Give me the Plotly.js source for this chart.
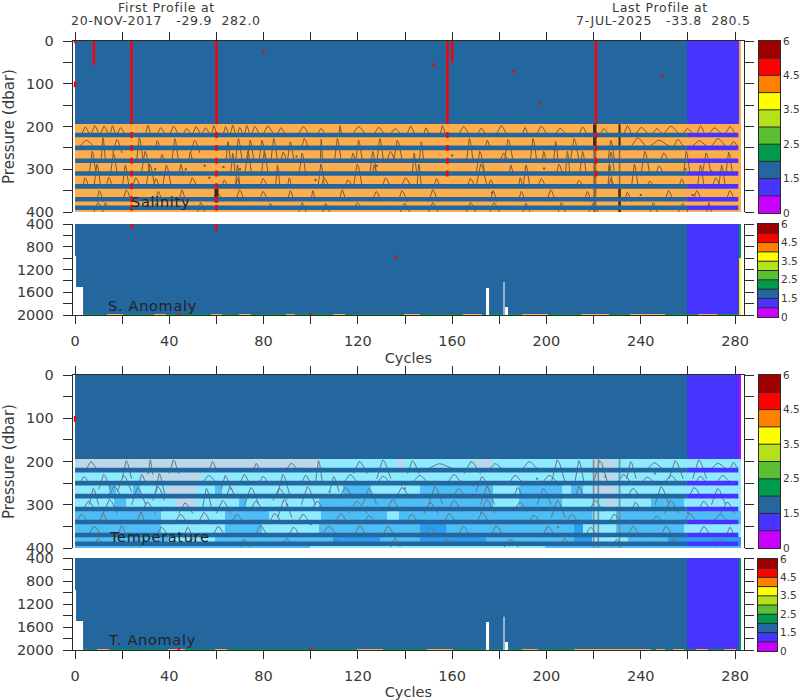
<!DOCTYPE html>
<html>
<head>
<meta charset="utf-8">
<script src="https://cdn.plot.ly/plotly-3.0.1.min.js"></script>
<style>html,body{margin:0;padding:0;background:#fff}#chart{width:800px;height:700px}.annotation-text{letter-spacing:0.7px}</style>
</head>
<body>
<div id="chart"></div>
<script>
// ---- categories ----
const flagColors = ['#c800ff','#4834ff','#24679f','#009a4e','#5abf32','#b4e11a','#ffff00','#ff8000','#ff0000','#a00000'];
const flagLabels = ['0','1.5','2.5','3.5','4.5','6'];
const flagLabelPos = [-0.5,1.5,3.5,5.5,7.5,9.5];
const extraColors = ['#ffad4b','#bcd7ea','#8eeaff','#4ebcf5','#2a9df0'];
const MAG=0,PUR=1,BLU=2,GRN=3,YEL=6,TAN=10,GRY=11,CYA=12,MID=13,DEP=14;

// ---- axes values ----
const lastCycle = 282;
const purpleStart = 260;
const xTicks = [0,20,40,60,80,100,120,140,160,180,200,220,240,260,280];
const xLabels = ['0','','40','','80','','120','','160','','200','','240','','280'];
const shallowTicks = [0,50,100,150,200,250,300,350,400];
const shallowLabels = ['0','','100','','200','','300','','400'];
const deepTicks = [400,600,800,1000,1200,1400,1600,1800,2000];
const deepLabels = ['400','','800','','1200','','1600','','2000'];

// ---- bands ----
const stripePressures = [220,250,280,310,340,370,390];
const bandTop = 195;
const tempBands = [
 [195,225,[[0,105,GRY],[105,137,CYA],[137,140,GRY],[140,170,CYA],[170,178,GRY],[178,220,CYA],[220,230,GRY],[230,283,CYA]]],
 [225,255,[[0,29,CYA],[29,54,GRY],[54,221,CYA],[221,230,GRY],[230,283,CYA]]],
 [255,285,[[0,15,CYA],[15,18,MID],[18,25,CYA],[25,28,MID],[28,39,CYA],[39,52,GRY],[52,60,CYA],[60,63,MID],[63,114,CYA],[114,126,MID],[126,147,CYA],[147,178,MID],[178,189,CYA],[189,207,MID],[207,211,CYA],[211,216,MID],[216,221,CYA],[221,230,GRY],[230,283,CYA]]],
 [285,315,[[0,17,CYA],[17,22,MID],[22,43,CYA],[43,52,GRY],[52,70,CYA],[70,73,MID],[73,104,CYA],[104,147,MID],[147,178,MID],[178,189,CYA],[189,207,MID],[207,225,CYA],[225,230,GRY],[230,245,CYA],[245,259,MID],[259,283,CYA]]],
 [315,345,[[0,37,MID],[37,64,CYA],[64,83,MID],[83,105,CYA],[105,133,MID],[133,138,CYA],[138,220,MID],[220,230,CYA],[230,283,MID]]],
 [345,375,[[0,37,MID],[37,64,CYA],[64,80,MID],[80,104,CYA],[104,147,MID],[147,158,DEP],[158,212,MID],[212,216,DEP],[216,230,CYA],[230,259,MID],[259,283,CYA]]],
 [375,395,[[0,40,MID],[40,60,CYA],[60,110,MID],[110,130,DEP],[130,147,MID],[147,175,DEP],[175,212,MID],[212,220,DEP],[220,235,CYA],[235,252,MID],[252,283,DEP]]],
 [395,400,[[0,100,MID],[100,200,CYA],[200,283,MID]]]
];

// ---- red flags ----
const salRed = [[8,0,56],[24,0,195],[60,0,195],[158,0,195],[160,0,50],[221,0,195],[0,0,5],[0,95,108]];
const salRedDash = [24,60];
const salRedDashShort = [158,221];
const salRedSpots = [[80,25],[152,55],[186,72],[197,145],[249,80]];
const sAnomRed = [[24,400,480],[60,400,520]];
const sAnomSpots = [[136,980],[44,1990],[100,1990]];
const tempRed = [[0,95,108]];
const tAnomSpots = [[44,1990],[100,1990]];

// ---- missing regions of the deep panels ----
const deepMissing = [[0,0,960],[1,3,1500],[175,175,1520],[183,183,1860]];
const thinGap = [[182,1420,2000]];
const sStripTan = [[14,20],[34,38],[58,62],[70,74],[90,93],[110,114],[140,146],[165,172],[190,200],[215,226],[236,250],[265,272]];
const tStripTan = [[10,14],[40,46],[60,64],[120,130],[150,160],[190,196],[212,244],[247,250],[254,258],[264,268],[276,280]];

// ---- dark dense contours ----
const salDark = [[220.5,195,255,3.5],[231,195,255,2],[231,345,400,2.5],[60,345,378,4]];
const salFaint = [[220.5,255,400,3],[231,255,345,1.5]];
const tempDark = [[220,195,400,1.6],[222,195,400,1.6],[231,195,400,1.6]];

// ---- contour arcs: left cycle, right cycle, end pressure, apex pressure ----
const salArcs = [
[3,6,216,201],[7,10,216,198],[11,14,216,199],[15,17,216,198],[18,21,216,203],[30,32,216,197],[35,38,216,203],[40,44,222,199],[46,49,216,205],[50,53,216,200],[54,57,216,203],[58,60,216,198],[63,65,216,200],[66,68,216,197],[69,71,216,202],[72,74,216,198],[75,78,216,200],[80,84,216,199],[86,89,216,203],[95,99,216,200],[103,106,216,205],[112,113,216,198],[118,123,216,200],[127,131,216,202],[134,138,216,205],[141,144,216,199],[148,150,216,203],[155,157,216,198],[163,167,216,200],[171,174,216,204],[179,183,216,198],[190,192,216,202],[196,200,216,199],[204,208,216,204],[214,217,216,201],[223,226,216,205],[233,236,216,198],[238,243,216,202],[245,249,216,205],[250,256,216,199],[258,262,216,205],[264,267,216,198],[269,274,216,203],[276,280,216,200],
[2,8,246,232],[11,13,285,226],[16,20,262,230],[26,29,285,226],[34,36,250,233],[41,44,285,228],[49,53,262,232],[64,66,285,235],[68,71,285,228],[73,76,285,232],[78,81,285,232],[83,86,285,228],[90,93,285,236],[96,99,250,228],[104,105,285,230],[110,113,285,228],[119,122,285,232],[128,131,285,228],[135,139,285,232],[146,148,285,236],[166,169,285,228],[174,176,250,232],[182,186,285,230],[193,196,285,228],[203,205,285,234],[210,214,285,228],[226,229,285,232],[236,242,246,226],[244,252,246,232],[254,258,246,230],[262,268,246,233],[270,276,246,228],[278,281,246,235],
[6,9,315,258],[15,18,315,262],[28,32,315,258],[36,38,285,265],[48,50,285,260],[66,68,315,262],[72,75,315,258],[79,82,315,258],[87,90,285,260],[95,98,315,262],[117,119,285,262],[125,128,315,258],[132,136,285,258],[143,145,315,262],[170,174,315,258],[180,184,285,262],[198,200,285,258],[208,210,315,258],[214,217,315,258],[226,229,315,260],[240,244,315,258],[248,252,285,262],[258,261,315,258],[266,270,315,262],[276,279,315,260],
[8,11,345,288],[20,23,345,290],[30,34,345,288],[37,41,345,290],[44,46,315,288],[68,70,345,290],[85,87,345,290],[103,106,345,288],[118,122,345,288],[126,128,315,290],[145,147,345,288],[170,175,345,288],[184,186,315,290],[190,193,345,290],[204,207,315,288],[226,228,345,290],[236,239,345,288],[246,250,315,292],[264,267,345,290],[273,276,345,290],
[3,6,345,320],[13,16,345,318],[24,28,345,320],[33,36,345,322],[48,52,345,320],[62,65,345,325],[68,70,345,320],[78,82,345,322],[90,92,345,320],[104,108,345,320],[114,118,345,325],[130,134,345,320],[138,143,345,320],[152,155,345,322],[166,170,345,322],[175,178,345,325],[188,190,345,320],[196,200,345,322],[212,216,345,326],[226,229,345,322],[242,246,345,328],[256,259,345,322],[270,274,345,320],
[9,12,376,350],[20,24,376,348],[34,37,376,352],[44,47,376,348],[58,63,376,354],[68,72,376,348],[78,82,376,352],[90,93,376,350],[100,102,376,350],[112,115,376,348],[126,130,376,352],[137,141,376,350],[150,154,376,348],[176,179,376,350],[188,191,376,352],[200,204,376,348],[216,219,376,352],[233,236,376,354],[250,254,376,350],[262,266,376,350],[276,280,376,350],
[12,14,395,378],[33,36,395,380],[52,55,400,378],[82,84,395,380],[95,98,400,378],[118,122,395,378],[138,142,400,380],[166,170,400,378],[190,193,400,380],[218,222,400,380],[244,247,400,378],[268,270,400,378],[8,12,400,378],[105,108,400,380],[150,154,400,378],[176,180,400,378],[205,208,400,378],[256,260,400,380]
];
const salDots = [[34,300],[47,300],[55,292],[57,320],[63,295],[70,300],[86,368],[94,270],[102,325],[128,292],[160,268],[177,355],[199,298],[215,372],[240,360],[259,300],[262,360],[270,305],[274,340]];

const tempArcs = [
[5,9,216,200],[20,24,240,198],[31,33,230,196],[40,44,228,196],[57,60,220,200],[76,78,216,204],[90,94,216,204],[102,105,250,198],[118,124,228,200],[128,134,240,196],[141,146,228,198],[150,160,216,205],[165,172,228,200],[176,181,216,205],[190,196,216,200],[202,208,250,196],[212,216,250,198],[220,226,250,198],[234,238,240,200],[243,249,216,203],[252,258,240,198],[262,268,240,196],[270,276,216,204],[278,281,216,202],
[2,6,250,235],[10,15,265,230],[18,24,270,232],[27,30,250,230],[34,38,275,228],[54,60,250,232],[62,66,265,232],[70,74,250,230],[78,82,250,234],[86,91,275,230],[96,100,250,232],[108,112,270,235],[114,120,250,230],[128,134,250,234],[143,150,250,232],[158,164,250,230],[170,176,270,235],[184,190,250,232],[198,205,250,232],[230,236,250,230],[240,246,250,236],[250,256,250,232],[263,268,250,234],[272,278,250,232],
[6,10,300,262],[14,20,285,258],[24,30,300,260],[33,38,290,258],[54,58,310,262],[64,68,285,258],[72,78,300,260],[84,90,290,262],[96,102,300,258],[112,118,285,260],[122,128,300,262],[136,142,285,260],[150,156,300,258],[160,166,285,262],[172,178,300,258],[186,190,285,260],[196,202,300,262],[212,216,285,258],[234,240,285,262],[246,252,300,258],[260,266,285,260],[270,276,300,262],
[3,9,315,292],[12,18,320,288],[28,34,320,294],[44,50,320,296],[60,66,320,290],[74,80,315,292],[86,92,330,288],[100,106,315,292],[116,124,320,292],[132,138,315,288],[148,154,320,295],[158,164,315,290],[172,178,320,288],[186,192,315,294],[202,208,330,290],[218,224,315,290],[236,240,315,294],[250,256,320,290],[264,270,315,292],[274,280,320,294],
[0,6,345,322],[10,14,345,320],[26,30,345,318],[42,48,345,322],[52,58,345,318],[66,72,345,322],[82,88,345,320],[94,100,345,322],[110,116,345,320],[122,128,345,325],[140,146,345,322],[156,162,345,320],[170,176,345,318],[192,198,345,324],[208,214,345,322],[226,232,345,322],[244,250,345,326],[258,264,345,320],[270,278,345,322],
[5,12,376,350],[18,22,376,348],[34,40,376,352],[46,50,376,352],[58,64,376,350],[76,82,376,348],[90,96,376,352],[104,112,376,350],[118,124,376,348],[130,136,376,350],[148,154,376,352],[162,168,376,350],[176,182,376,348],[198,204,376,350],[216,222,376,352],[234,240,376,350],[248,254,376,350],[264,270,376,350],[276,280,376,352],
[8,12,395,378],[24,28,398,380],[48,52,395,378],[70,74,398,380],[88,92,395,378],[108,114,395,380],[134,138,398,378],[156,160,395,378],[182,188,398,380],[206,210,395,378],[228,232,398,380],[252,256,395,378],[272,276,398,380]
];
const tempDots = [[169,255],[140,262],[108,270],[196,240],[225,235],[246,228],[260,318],[268,312],[205,352],[100,345],[90,300]];

// ---- build grids ----
const cycles = []; for (let c=0;c<=lastCycle;c++) cycles.push(c);
// cell edges: the first and the last cycle only show a sliver of a cell
const cycleEdges = [0]; for (let c=0;c<lastCycle;c++) cycleEdges.push(c+0.5); cycleEdges.push(lastCycle+0.45);
const shallowP = []; for (let p=2.5;p<400;p+=5) shallowP.push(p);
const deepP = []; for (let p=410;p<2000;p+=20) deepP.push(p);

function shallowGrid(fillFn, topEdge){
  return shallowP.map(p => {
    if (p<bandTop) return cycles.map(c => c===lastCycle ? topEdge : (c>=purpleStart ? PUR : BLU));
    return cycles.map(c => fillFn(p,c));
  });
}
const salZ = shallowGrid(()=>TAN,TAN);
const tempZ = shallowGrid((p,c)=>{
  for (const b of tempBands) if (p>=b[0]&&p<b[1]) for (const r of b[2]) if (c>=r[0]&&c<r[1]) return r[2];
  return CYA;
},MAG);
function deepGrid(stripRuns, edgeFn){
  return deepP.map(p => cycles.map(c => {
    for (const m of deepMissing) if (c>=m[0]&&c<=m[1]&&p>=m[2]) return null;
    if (c===lastCycle) return edgeFn(p);
    if (p>=1980){
      for (const r of stripRuns) if (c>=r[0]&&c<=r[1]) return TAN;
      return GRN;
    }
    return c>=purpleStart ? PUR : BLU;
  }));
}
const sAnomZ = deepGrid(sStripTan, p => p<1000 ? GRN : YEL);
const tAnomZ = deepGrid(tStripTan, p => GRN);

// ---- colour scale ----
const allColors = flagColors.concat(extraColors);
const n = allColors.length;
const cscale = [];
allColors.forEach((col,i)=>{ cscale.push([i/n,col]); cscale.push([(i+1)/n,col]); });
const heatBase = {type:'heatmap',colorscale:cscale,zmin:-0.5,zmax:n-0.5,showscale:false,hoverinfo:'skip',zsmooth:false};

// ---- pixel layout of the panels ----
const W=800,H=700;
const dx = [72.7/W,744/W];
const panels = [[41,212],[224,315],[375,548],[558,650]];
const cbBoxes = [[759,780,41,213],[758,778,224,317],[759,780,375,548],[758,777,559,651]];
const dy = a => [1-a[1]/H,1-a[0]/H];
const xRange = [-0.98,283.8];
const ink='#2b2b2b', label='#3a3a3a';
const fontFam='"DejaVu Sans",sans-serif';

const layout = {width:W,height:H,margin:{l:0,r:0,t:0,b:0},paper_bgcolor:'#fff',plot_bgcolor:'#fff',showlegend:false,
  font:{family:fontFam,size:14.5,color:label},annotations:[]};

panels.forEach((pp,i)=>{
  const k = i+1, deep = i%2===1;
  layout['xaxis'+k] = {domain:dx,range:xRange,anchor:'y'+k,side:deep?'bottom':'top',tickmode:'array',
    tickvals:xTicks,ticktext:xLabels,ticks:'outside',ticklen:8,tickcolor:ink,tickwidth:1,
    showticklabels:deep,showline:true,linecolor:ink,linewidth:1,showgrid:false,zeroline:false,
    ticklabelstandoff:5,tickfont:{size:14.5,color:label},
    title: deep ? {text:'Cycles',standoff:4,font:{size:14.5,color:label}} : undefined};
  layout['yaxis'+k] = {domain:dy(pp),range:deep?[2000,400]:[400,0],anchor:'x'+k,tickmode:'array',
    tickvals:deep?deepTicks:shallowTicks,ticktext:deep?deepLabels:shallowLabels,ticks:'outside',ticklen:9,tickcolor:ink,tickwidth:1,
    showline:true,mirror:'ticks',linecolor:ink,linewidth:1,showgrid:false,zeroline:false,
    ticklabelstandoff:6,tickfont:{size:14.5,color:label},
    title: deep ? undefined : {text:'Pressure (dbar)',standoff:16,font:{size:15,color:label}}};
});
cbBoxes.forEach((b,i)=>{
  const k = i+5;
  layout['xaxis'+k] = {domain:[b[0]/W,b[1]/W],range:[-0.5,0.5],anchor:'y'+k,showticklabels:false,ticks:'',showgrid:false,zeroline:false,
    showline:true,mirror:true,linecolor:ink,linewidth:1};
  layout['yaxis'+k] = {domain:dy([b[2],b[3]]),range:[-0.5,9.5],anchor:'x'+k,side:'right',tickmode:'array',tickvals:flagLabelPos,ticktext:flagLabels,
    ticks:'',showgrid:false,zeroline:false,showline:true,mirror:true,linecolor:ink,linewidth:1,
    ticklabelstandoff:0,tickfont:{size:10.5,color:label}};
});

// ---- traces ----
const traces = [];
function arcsTrace(arcs,xa,ya,color){
  const x=[],y=[];
  arcs.forEach(a=>{
    const w=a[1]-a[0], d=a[2]-a[3];
    x.push(a[0],a[0]+0.42*w,a[0]+0.58*w,a[1],null);
    y.push(a[2],a[3],a[3]+0.12*d,a[2],null);
  });
  return {type:'scatter',mode:'lines',x,y,xaxis:xa,yaxis:ya,hoverinfo:'skip',line:{color,width:1}};
}
function segTrace(segs,xa,ya,color,width){
  const x=[],y=[];
  segs.forEach(s=>{ x.push(s[0],s[0],null); y.push(s[1],s[2],null); });
  return {type:'scatter',mode:'lines',x,y,xaxis:xa,yaxis:ya,hoverinfo:'skip',line:{color,width}};
}
function dotsTrace(pts,xa,ya,color,size){
  return {type:'scatter',mode:'markers',x:pts.map(p=>p[0]),y:pts.map(p=>p[1]),xaxis:xa,yaxis:ya,hoverinfo:'skip',marker:{color,size,symbol:'square',line:{width:0}}};
}
function stripeTraces(xa,ya){
  const xb=[],yb=[],xp=[],yp=[];
  stripePressures.forEach(p=>{
    xb.push(0,purpleStart-0.5,null); yb.push(p,p,null);
    xp.push(purpleStart-0.5,lastCycle-0.6,null); yp.push(p,p,null);
  });
  return [
    {type:'scatter',mode:'lines',x:xb,y:yb,xaxis:xa,yaxis:ya,hoverinfo:'skip',line:{color:flagColors[BLU],width:4.6}},
    {type:'scatter',mode:'lines',x:xp,y:yp,xaxis:xa,yaxis:ya,hoverinfo:'skip',line:{color:flagColors[PUR],width:4.6}}
  ];
}
function dashSegs(list,stripes){
  const out=[]; list.forEach(c=>stripes.forEach(s=>out.push([c,s-7,s+7]))); return out;
}

// Salinity
traces.push(Object.assign({},heatBase,{x:cycleEdges,y:shallowP,z:salZ,xaxis:'x',yaxis:'y'}));
traces.push(arcsTrace(salArcs,'x','y','#7a5c34'));
traces.push(dotsTrace(salDots,'x','y','#6d5230',2));
salFaint.forEach(d=>traces.push(segTrace([d],'x','y','#8a6a3a',d[3])));
salDark.forEach(d=>traces.push(segTrace([d],'x','y','#3c2a12',d[3])));
stripeTraces('x','y').forEach(t=>traces.push(t));
traces.push(segTrace(salRed,'x','y','#ff0000',2.4));
traces.push(segTrace(dashSegs(salRedDash,stripePressures),'x','y','#ff0000',2.4));
traces.push(segTrace(dashSegs(salRedDashShort,stripePressures.slice(0,4)),'x','y','#ff0000',2.4));
traces.push(dotsTrace(salRedSpots,'x','y','#ff0000',2.6));

// S anomaly
traces.push(Object.assign({},heatBase,{x:cycleEdges,y:deepP,z:sAnomZ,xaxis:'x2',yaxis:'y2'}));
traces.push(segTrace(sAnomRed,'x2','y2','#ff0000',2.4));
traces.push(segTrace(thinGap,'x2','y2','#ffffff',1));
traces.push(dotsTrace(sAnomSpots,'x2','y2','#ff0000',2.6));

// Temperature
traces.push(Object.assign({},heatBase,{x:cycleEdges,y:shallowP,z:tempZ,xaxis:'x3',yaxis:'y3'}));
traces.push(arcsTrace(tempArcs,'x3','y3','#66767f'));
traces.push(dotsTrace(tempDots,'x3','y3','#6a7a86',2));
tempDark.forEach(d=>traces.push(segTrace([d],'x3','y3','#7d8b93',d[3])));
stripeTraces('x3','y3').forEach(t=>traces.push(t));
traces.push(segTrace(tempRed,'x3','y3','#ff0000',2.4));

// T anomaly
traces.push(Object.assign({},heatBase,{x:cycleEdges,y:deepP,z:tAnomZ,xaxis:'x4',yaxis:'y4'}));
traces.push(segTrace(thinGap,'x4','y4','#ffffff',1));
traces.push(dotsTrace(tAnomSpots,'x4','y4','#ff0000',2.6));

// Colour keys
const keyIdx = flagColors.map((c,i)=>i);
cbBoxes.forEach((b,i)=>{
  const k=i+5;
  traces.push(Object.assign({},heatBase,{x:[0],y:keyIdx,z:keyIdx.map(v=>[v]),xaxis:'x'+k,yaxis:'y'+k}));
  const x=[],y=[];
  keyIdx.slice(1).forEach(v=>{x.push(-0.5,0.5,null); y.push(v-0.5,v-0.5,null);});
  traces.push({type:'scatter',mode:'lines',x,y,xaxis:'x'+k,yaxis:'y'+k,hoverinfo:'skip',line:{color:ink,width:1}});
});

// ---- text ----
function note(text,px,py,size,color,anchor){
  layout.annotations.push({text,xref:'paper',yref:'paper',x:px/W,y:1-py/H,showarrow:false,xanchor:anchor||'center',yanchor:'middle',
    font:{family:fontFam,size:size,color:color||label},borderpad:0});
}
note('First Profile at',166,7,12.5);
note('20-NOV-2017&#160;&#160;&#160;-29.9&#160;&#160;282.0',166,20,12.5);
note('Last Profile at',660,7,12.5);
note('7-JUL-2025&#160;&#160;&#160;-33.8&#160;&#160;280.5',663,20,12.5);
note('Salinity',160,202,14.5,'#222');
note('S. Anomaly',152,306,14.5,'#222');
note('Temperature',159,537,14.5,'#222');
note('T. Anomaly',152,640,14.5,'#222');

Plotly.newPlot('chart',traces,layout,{staticPlot:true,displayModeBar:false});
</script>
</body>
</html>
